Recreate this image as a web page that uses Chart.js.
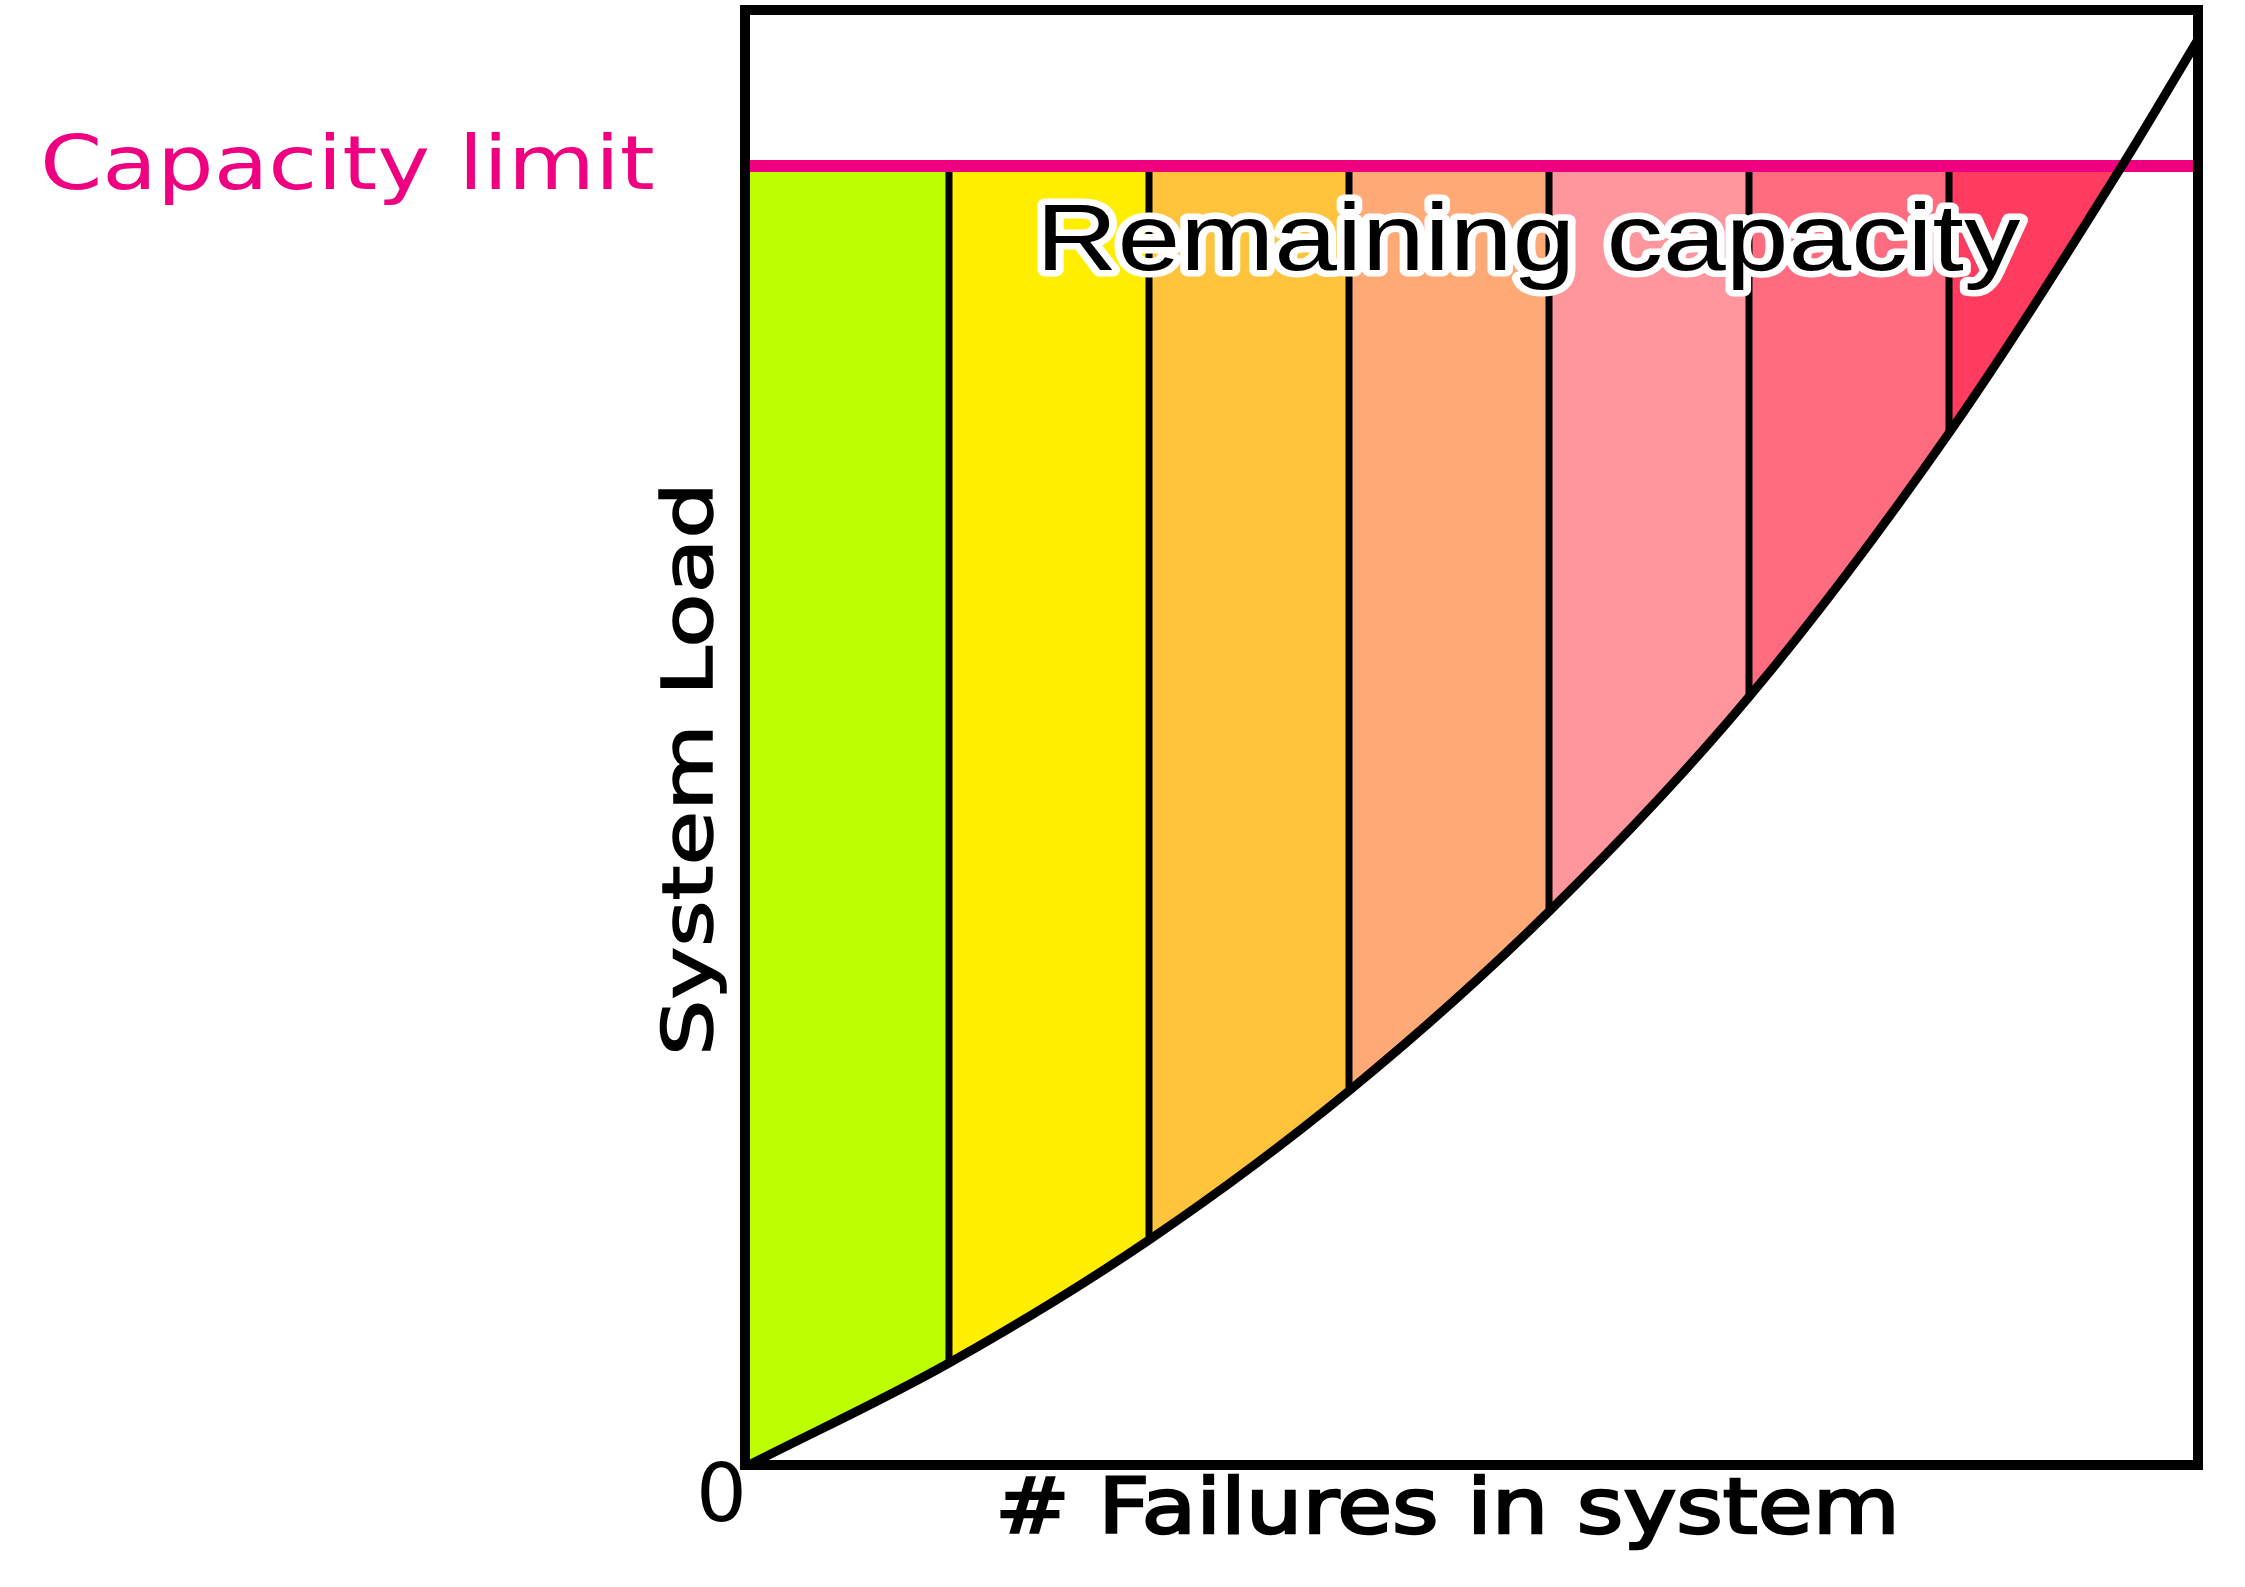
<!DOCTYPE html>
<html>
<head>
<meta charset="utf-8">
<script src="https://cdn.jsdelivr.net/npm/chart.js"></script>
<style>
  html, body { margin: 0; padding: 0; background: #fff; }
  #wrap { width: 2245px; height: 1587px; position: relative; }
</style>
</head>
<body>
<div id="wrap"><canvas id="loadChart"></canvas></div>
<script>
// values
var failures   = [0, 1, 2, 3, 4, 5, 6, 6.865, 7.25];
var systemLoad = [0, 7.85, 17.32, 28.8, 42.6, 59.12, 79.44, 100, 109.85];
var capacityLimit = 100;
var bandEdges  = [0, 1, 2, 3, 4, 5, 6, 6.865];
var bandColors = ['#BBFF00', '#FFEE00', '#FFC43B', '#FFA977', '#FF959D', '#FF6C7F', '#FF3B5F'];
var dividerAt  = [1, 2, 3, 4, 5, 6];
var xTickLabels = ['0'];

var datasets = [];

// 0: load curve
datasets.push({
    data: failures.map(function (f, i) { return {x: f, y: systemLoad[i]}; }),
    borderColor: '#000',
    borderWidth: 9,
    pointRadius: 0,
    cubicInterpolationMode: 'monotone',
    fill: false,
    order: 0
});

// 1: capacity limit line
datasets.push({
    data: [{x: 0, y: capacityLimit}, {x: 7.25, y: capacityLimit}],
    borderColor: '#EE0080',
    borderWidth: 12,
    pointRadius: 0,
    fill: false,
    order: 1
});

// vertical dividers, from the capacity line down to the curve
dividerAt.forEach(function (d) {
    var idx = failures.indexOf(d);
    datasets.push({
        data: [{x: d, y: capacityLimit}, {x: d, y: systemLoad[idx]}],
        borderColor: '#000',
        borderWidth: 7,
        borderCapStyle: 'butt',
        pointRadius: 0,
        fill: false,
        order: 2
    });
});

// coloured bands, filled between the capacity line and the curve
for (var i = 0; i < bandColors.length; i++) {
    datasets.push({
        data: [{x: bandEdges[i], y: capacityLimit}, {x: bandEdges[i + 1], y: capacityLimit}],
        borderWidth: 0,
        borderColor: 'rgba(0,0,0,0)',
        backgroundColor: bandColors[i],
        pointRadius: 0,
        fill: 0,
        order: 3
    });
}

function stretchText(ctx, str, x, y, sx, rot, draw) {
    ctx.save();
    ctx.translate(x, y);
    if (rot) ctx.rotate(rot);
    ctx.scale(sx, 1);
    draw(str);
    ctx.restore();
}

var framePlugin = {
    id: 'frameAndText',
    afterDatasetsDraw: function (chart) {
        var ctx = chart.ctx;
        var xs = chart.scales.x, ys = chart.scales.y;
        var l = xs.getPixelForValue(0) - 4, r = xs.getPixelForValue(7.25) - 1;
        var t = ys.getPixelForValue(112), b = ys.getPixelForValue(0);
        ctx.save();
        ctx.strokeStyle = '#000';
        ctx.lineWidth = 10;
        ctx.lineJoin = 'miter';
        ctx.strokeRect(l, t, r - l, b - t);
        ctx.restore();
    },
    afterDraw: function (chart) {
        var ctx = chart.ctx;
        var xs = chart.scales.x, ys = chart.scales.y;
        var capY = ys.getPixelForValue(capacityLimit);

        // Capacity limit label
        ctx.save();
        ctx.font = '75px "DejaVu Sans"';
        ctx.fillStyle = '#EE0080';
        stretchText(ctx, 'Capacity limit', 40, capY + 23, 1.19, 0, function (s) {
            ctx.fillText(s, 0, 0);
        });
        ctx.restore();

        // y axis title
        ctx.save();
        ctx.font = '69px "DejaVu Sans"';
        ctx.fillStyle = '#000';
        ctx.strokeStyle = '#000';
        ctx.lineWidth = 1.5;
        stretchText(ctx, 'System Load', 712, 1056, 1.29, -Math.PI / 2, function (s) {
            ctx.fillText(s, 0, 0);
            ctx.strokeText(s, 0, 0);
        });
        ctx.restore();

        // x axis title
        ctx.save();
        ctx.font = '77px "DejaVu Sans"';
        ctx.fillStyle = '#000';
        ctx.strokeStyle = '#000';
        ctx.lineWidth = 2.5;
        stretchText(ctx, '# Failures in system', 995, 1533, 1.16, 0, function (s) {
            ctx.fillText(s, 0, 0);
            ctx.strokeText(s, 0, 0);
        });
        ctx.restore();

        // zero tick
        ctx.save();
        ctx.font = '80px "DejaVu Sans"';
        ctx.fillStyle = '#000';
        ctx.textAlign = 'right';
        ctx.fillText(xTickLabels[0], xs.getPixelForValue(0) - 2, ys.getPixelForValue(0) + 56);
        ctx.restore();

        // Remaining capacity, black with white halo
        ctx.save();
        ctx.font = '94px "Liberation Sans"';
        ctx.lineJoin = 'round';
        stretchText(ctx, 'Remaining capacity', 1036, capY + 104, 1.2, 0, function (s) {
            ctx.strokeStyle = '#fff';
            ctx.lineWidth = 13;
            ctx.strokeText(s, 0, 0);
            ctx.fillStyle = '#000';
            ctx.fillText(s, 0, 0);
        });
        ctx.restore();
    }
};

var ctx = document.getElementById('loadChart').getContext('2d');
var loadChart = new Chart(ctx, {
    type: 'line',
    data: { datasets: datasets },
    options: {
        responsive: true,
        maintainAspectRatio: false,
        devicePixelRatio: 1,
        animation: false,
        layout: { padding: { left: 749, right: 46, top: 10, bottom: 122 } },
        scales: {
            x: { type: 'linear', min: 0, max: 7.25, display: false },
            y: { type: 'linear', min: 0, max: 112, display: false }
        },
        plugins: {
            legend: { display: false },
            tooltip: { enabled: false }
        }
    },
    plugins: [framePlugin]
});
</script>
</body>
</html>
